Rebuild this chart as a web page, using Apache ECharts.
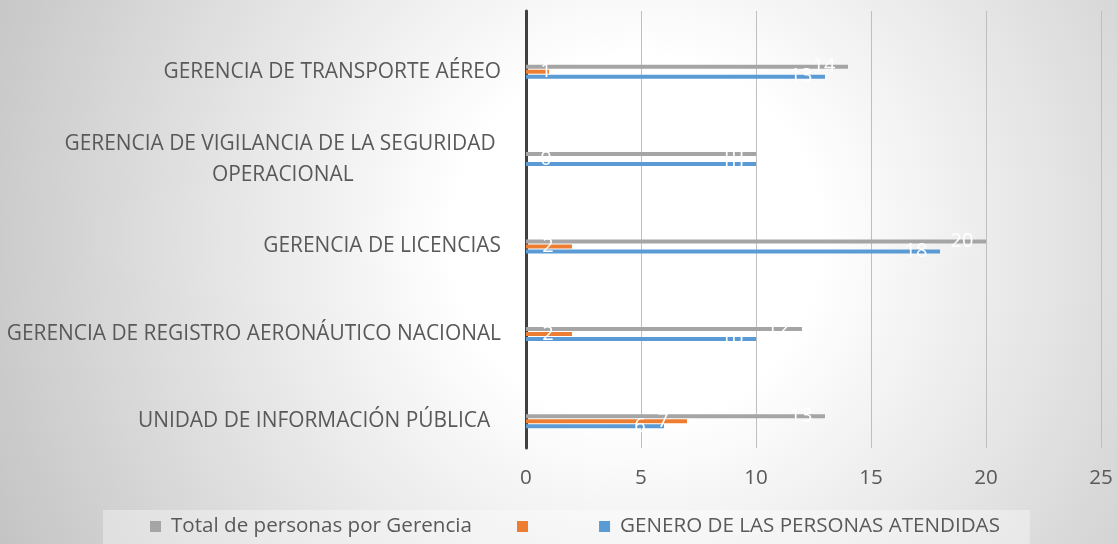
<!DOCTYPE html>
<html>
<head>
<meta charset="utf-8">
<script src="https://cdn.jsdelivr.net/npm/echarts@6/dist/echarts.min.js"></script>
<style>
  html, body { margin: 0; padding: 0; }
  #chart {
    width: 1117px; height: 544px;
    background: radial-gradient(circle farthest-corner at 57% 44%, #ffffff 0%, #ffffff 26%, #c4c4c4 100%);
  }
</style>
</head>
<body>
<div id="chart"></div>
<script>
// ---- data (bottom category first) ----
var categories = [
  'UNIDAD DE INFORMACIÓN PÚBLICA  ',
  'GERENCIA DE REGISTRO AERONÁUTICO NACIONAL',
  'GERENCIA DE LICENCIAS',
  'GERENCIA DE VIGILANCIA DE LA SEGURIDAD \nOPERACIONAL',
  'GERENCIA DE TRANSPORTE AÉREO'
];
var totalName = 'Total de personas por Gerencia';
var orangeName = '\u00a0\u00a0\u00a0';
var blueName = 'GENERO DE LAS PERSONAS ATENDIDAS';
var totalValues  = [13, 12, 20, 10, 14];
var orangeValues = [7, 2, 2, 0, 1];
var blueValues   = [6, 10, 18, 10, 13];
var xTicks = [0, 5, 10, 15, 20, 25];

var FONT = '"Open Sans", Lato, sans-serif';
var FS = 20.6;
var CAT_FS = 20.9;

// measure text for centered multi-line category labels
var ctx = document.createElement('canvas').getContext('2d');
ctx.font = CAT_FS + 'px "Open Sans"';
var maxLineW = 0;
categories.forEach(function (c) {
  if (c.indexOf('\n') >= 0) {
    c.split('\n').forEach(function (l) { maxLineW = Math.max(maxLineW, ctx.measureText(l).width); });
  }
});

function labelFor(v) {
  if (v <= 1) {
    return { position: 'insideLeft', distance: 20, align: 'center' };
  }
  return { position: 'insideRight', distance: 24, align: 'center' };
}
function items(arr) {
  return arr.map(function (v) { return { value: v, label: labelFor(v) }; });
}

var labelBase = {
  show: true, color: '#ffffff', fontSize: 20, fontFamily: FONT,
  verticalAlign: 'middle'
};

var chart = echarts.init(document.getElementById('chart'), null, { renderer: 'canvas' });
chart.setOption({
  backgroundColor: 'transparent',
  animation: false,
  textStyle: { fontFamily: FONT },
  grid: [
    { left: 526, right: 16, top: 28, bottom: 79, containLabel: false },
    { left: 526, right: 16, top: 11, bottom: 96, containLabel: false }
  ],
  legend: {
    data: [totalName, orangeName, blueName],
    left: 103, top: 510,
    padding: [6, 30, 12, 47],
    backgroundColor: 'rgba(255,255,255,0.35)',
    itemWidth: 11, itemHeight: 11, itemGap: 45,
    icon: 'rect',
    textStyle: { color: '#595959', fontSize: FS, fontFamily: FONT, padding: [0, 0, 0, 5] }
  },
  xAxis: [
    {
      gridIndex: 0, type: 'value', min: 0, max: 25, interval: 5,
      axisLine: { show: false }, axisTick: { show: false },
      splitLine: { show: false },
      axisLabel: {
        color: '#595959', fontSize: FS, fontFamily: FONT, margin: 3,
        formatter: function (v) { return xTicks.indexOf(v) >= 0 ? String(v) : ''; }
      }
    },
    {
      gridIndex: 1, type: 'value', min: 0, max: 25, interval: 5,
      axisLine: { show: false }, axisTick: { show: false },
      axisLabel: { show: false },
      splitLine: { show: true, lineStyle: { color: '#bfbfbf', width: 1 } }
    }
  ],
  yAxis: [
    {
      gridIndex: 0, type: 'category', data: categories,
      axisLine: { show: false }, axisTick: { show: false },
      axisLabel: {
        color: '#595959', fontSize: CAT_FS, fontFamily: FONT, margin: 25,
        formatter: function (v) {
          if (v.indexOf('\n') < 0) return v;
          return v.split('\n').map(function (l) { return '{w|' + l + '}'; }).join('\n');
        },
        rich: {
          w: { width: maxLineW, align: 'center', lineHeight: 31,
               color: '#595959', fontSize: CAT_FS, fontFamily: FONT }
        }
      }
    },
    {
      gridIndex: 1, type: 'value', min: 0, max: 1,
      axisLine: { show: true, onZero: false, lineStyle: { color: '#404040', width: 3 } },
      axisTick: { show: false }, axisLabel: { show: false }, splitLine: { show: false }
    }
  ],
  series: [
    {
      name: totalName, type: 'bar', xAxisIndex: 0, yAxisIndex: 0,
      data: items(totalValues), barWidth: 4, barGap: '25%',
      itemStyle: { color: '#a5a5a5' }, label: labelBase
    },
    {
      name: orangeName, type: 'bar', xAxisIndex: 0, yAxisIndex: 0,
      data: items(orangeValues), barWidth: 4, barGap: '25%',
      itemStyle: { color: '#ed7d31' }, label: labelBase
    },
    {
      name: blueName, type: 'bar', xAxisIndex: 0, yAxisIndex: 0,
      data: items(blueValues), barWidth: 4, barGap: '25%',
      itemStyle: { color: '#5b9bd5' }, label: labelBase
    }
  ]
});
</script>
</body>
</html>
